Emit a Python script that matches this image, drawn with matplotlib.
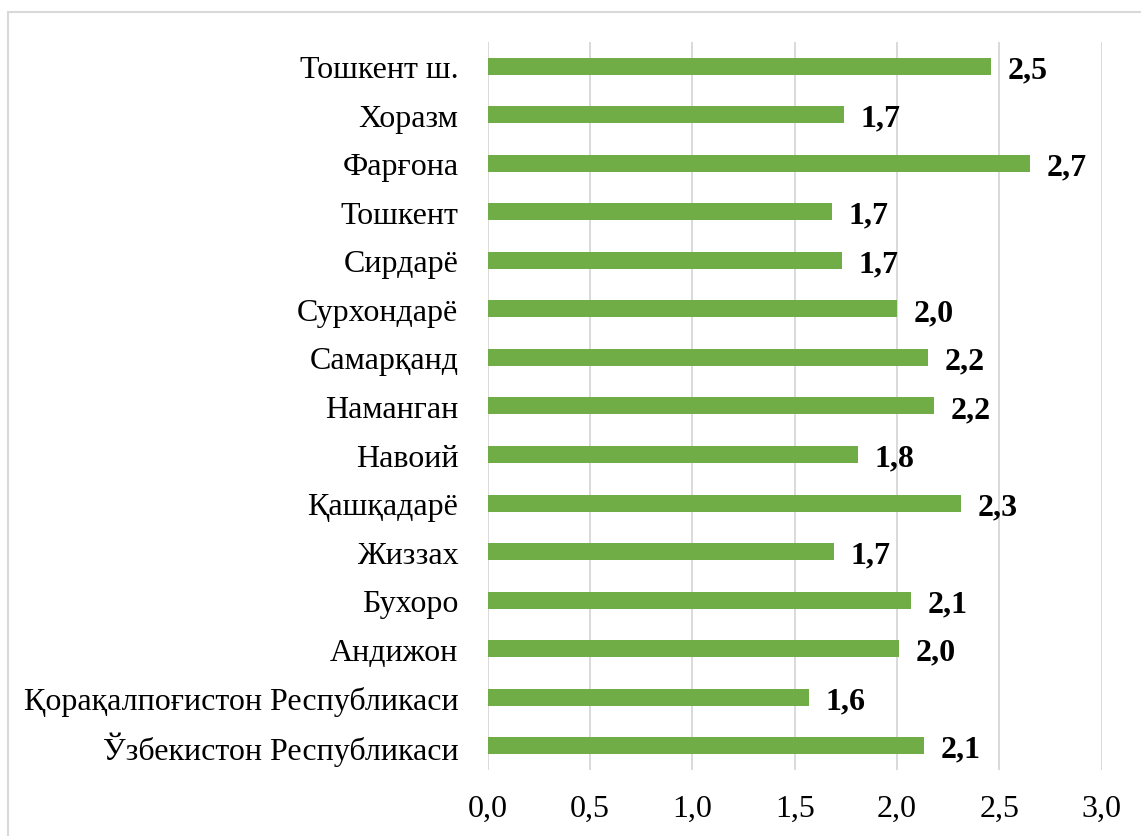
import matplotlib.pyplot as plt
from matplotlib.patches import Rectangle
from matplotlib.ticker import FuncFormatter

# Regions, top to bottom as shown in the chart
regions = [
    "Тошкент ш.", "Хоразм", "Фарғона", "Тошкент", "Сирдарё",
    "Сурхондарё", "Самарқанд", "Наманган", "Навоий", "Қашқадарё",
    "Жиззах", "Бухоро", "Андижон", "Қорақалпоғистон Республикаси",
    "Ўзбекистон Республикаси",
]
values = [2.46, 1.74, 2.65, 1.68, 1.73, 2.00, 2.15, 2.18, 1.81, 2.31,
          1.69, 2.07, 2.01, 1.57, 2.13]
value_labels = ["2,5", "1,7", "2,7", "1,7", "1,7", "2,0", "2,2", "2,2", "1,8",
                "2,3", "1,7", "2,1", "2,0", "1,6", "2,1"]
x_ticks = [0.0, 0.5, 1.0, 1.5, 2.0, 2.5, 3.0]

plt.rcParams['font.family'] = ['Liberation Serif', 'DejaVu Serif']

fig = plt.figure(figsize=(11.41, 8.37), dpi=100)
ax = fig.add_axes([0.4274, 0.0789, 0.9656 - 0.4274, 0.9486 - 0.0789])

ypos = list(range(len(regions)))
ax.barh(ypos, values, height=0.35, color='#70AD47', zorder=3)

for y, v, lab in zip(ypos, values, value_labels):
    ax.annotate(lab, (v, y), xytext=(12, 0), textcoords='offset points',
                ha='left', va='center_baseline', fontsize=23, fontweight='bold')

ax.set_xlim(0, 3.0)
ax.set_ylim(-0.5, len(regions) - 0.5)
ax.invert_yaxis()
ax.set_yticks(ypos)
ax.set_yticklabels(regions, fontsize=23)
ax.set_xticks(x_ticks)
ax.xaxis.set_major_formatter(FuncFormatter(lambda v, p: f"{v:.1f}".replace('.', ',')))
ax.tick_params(axis='x', labelsize=23, length=0, pad=17)
ax.tick_params(axis='y', length=0, pad=21)
ax.grid(True, axis='x', color='#D9D9D9', linewidth=1.4, zorder=0)
for s in ax.spines.values():
    s.set_visible(False)

# light border around the chart area
fig.patches.append(Rectangle((8 / 1141, -0.1), 1.2, (837 - 13) / 837 + 0.1,
                             transform=fig.transFigure, fill=False,
                             edgecolor='#D9D9D9', linewidth=1.5))

fig.savefig("out.png", dpi=100)
